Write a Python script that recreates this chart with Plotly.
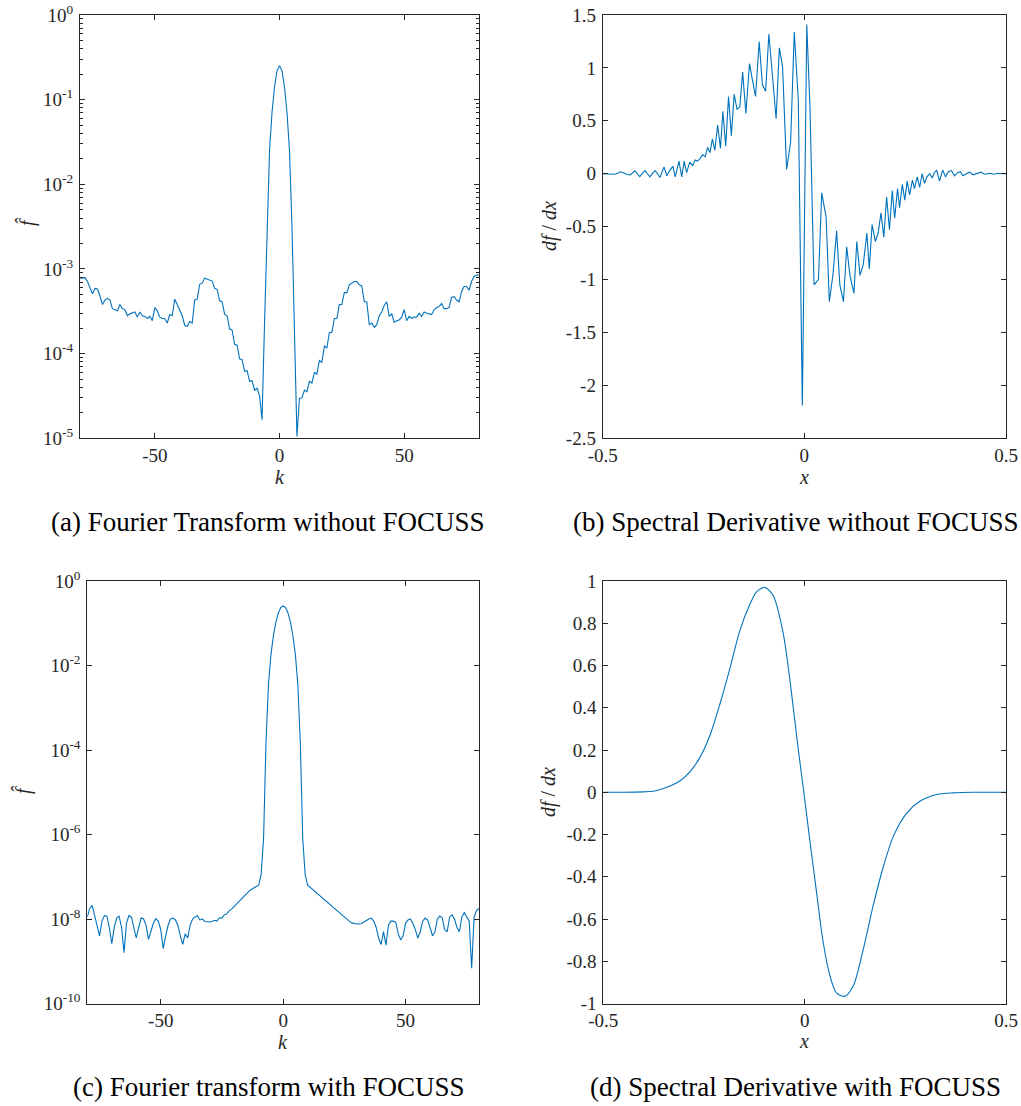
import plotly.graph_objects as go

# ---------------- data ----------------
# (a) Fourier transform without FOCUSS, k = -80..80
k_a = list(range(-80, 81))
fhat_a = [
    7.8e-4, 7.9e-4, 7.9e-4, 7.1e-4, 6.0e-4, 5.1e-4, 5.9e-4, 5.8e-4, 4.8e-4, 3.8e-4,
    4.3e-4, 4.5e-4, 4.3e-4, 3.4e-4, 3.3e-4, 3.2e-4, 3.8e-4, 3.4e-4, 3.3e-4, 2.8e-4,
    2.95e-4, 3.0e-4, 3.1e-4, 2.7e-4, 3.1e-4, 2.8e-4, 2.75e-4, 2.6e-4, 2.75e-4, 2.45e-4,
    3.5e-4, 3.2e-4, 2.7e-4, 2.6e-4, 2.6e-4, 2.3e-4, 2.9e-4, 2.8e-4, 4.4e-4, 3.8e-4,
    3.2e-4, 2.8e-4, 2.15e-4, 2.1e-4, 2.4e-4, 2.3e-4, 4.3e-4, 4.4e-4, 6.6e-4, 6.8e-4,
    7.8e-4, 7.6e-4, 7.4e-4, 7.2e-4, 5.9e-4, 5.75e-4, 4.2e-4, 4.1e-4, 2.9e-4, 2.8e-4,
    1.95e-4, 1.9e-4, 1.29e-4, 1.26e-4, 8.7e-5, 8.5e-5, 6.2e-5, 6.3e-5, 4.7e-5, 4.8e-5,
    3.7e-5, 3.9e-5, 3.2e-5, 1.66e-5, 2.3e-4, 3.2e-3, 2.5e-2, 7.1e-2, 0.141, 0.219,
    0.251,
    0.219, 0.141, 7.1e-2, 2.5e-2, 3.2e-3, 2.0e-4, 1.05e-5, 2.95e-5, 3.0e-5, 3.7e-5,
    3.55e-5, 4.7e-5, 4.5e-5, 6.0e-5, 5.75e-5, 8.3e-5, 7.9e-5, 1.23e-4, 1.17e-4, 1.78e-4,
    1.78e-4, 2.6e-4, 2.6e-4, 3.8e-4, 3.8e-4, 5.25e-4, 5.25e-4, 6.5e-4, 6.8e-4, 7.1e-4,
    7.1e-4, 6.5e-4, 6.3e-4, 4.1e-4, 4.1e-4, 2.2e-4, 2.3e-4, 2.05e-4, 2.2e-4, 2.8e-4,
    3.1e-4, 3.7e-4, 4.1e-4, 2.75e-4, 2.95e-4, 2.35e-4, 2.45e-4, 2.5e-4, 2.7e-4, 3.3e-4,
    2.45e-4, 2.75e-4, 2.6e-4, 2.7e-4, 2.7e-4, 3.0e-4, 2.75e-4, 3.1e-4, 3.0e-4, 2.95e-4,
    2.9e-4, 3.3e-4, 3.5e-4, 3.6e-4, 3.9e-4, 3.4e-4, 3.4e-4, 3.5e-4, 4.6e-4, 4.7e-4,
    4.3e-4, 4.1e-4, 5.4e-4, 6.2e-4, 6.2e-4, 5.6e-4, 7.1e-4, 8.1e-4, 8.5e-4, 8.5e-4,
]

# (b) Spectral derivative without FOCUSS
x_b = [
    -0.500, -0.490, -0.480, -0.470, -0.463, -0.456, -0.448, -0.440, -0.432, -0.426,
    -0.420, -0.414, -0.408, -0.401, -0.395, -0.389, -0.383, -0.376, -0.370, -0.364,
    -0.358, -0.348, -0.341, -0.334, -0.326, -0.320, -0.311, -0.304, -0.298, -0.292,
    -0.284, -0.277, -0.271, -0.265, -0.259, -0.252, -0.246, -0.240, -0.234, -0.228,
    -0.222, -0.215, -0.208, -0.202, -0.195, -0.188, -0.181, -0.174, -0.167, -0.160,
    -0.153, -0.145, -0.136, -0.128, -0.121, -0.112, -0.104, -0.096, -0.088, -0.070,
    -0.062, -0.054, -0.044, -0.034, -0.025, -0.015, -0.005, 0.006, 0.014, 0.024,
    0.035, 0.043, 0.054, 0.062, 0.071, 0.080, 0.088, 0.097, 0.105, 0.113,
    0.123, 0.130, 0.138, 0.146, 0.155, 0.161, 0.168, 0.176, 0.183, 0.190,
    0.197, 0.204, 0.211, 0.218, 0.224, 0.231, 0.236, 0.243, 0.249, 0.255,
    0.261, 0.268, 0.273, 0.280, 0.286, 0.292, 0.298, 0.304, 0.311, 0.317,
    0.322, 0.328, 0.335, 0.343, 0.350, 0.357, 0.365, 0.372, 0.380, 0.387,
    0.393, 0.402, 0.410, 0.418, 0.428, 0.438, 0.447, 0.460, 0.470, 0.480,
    0.490, 0.500,
]
dfdx_b = [
    0.000, 0.000, -0.003, -0.005, 0.005, 0.018, 0.008, -0.008, -0.012, 0.010,
    0.028, 0.000, -0.028, 0.005, 0.030, 0.000, -0.030, 0.005, 0.030, 0.000,
    -0.035, 0.065, -0.020, 0.030, 0.070, -0.030, 0.120, -0.030, 0.120, 0.010,
    0.110, 0.076, 0.130, 0.120, 0.140, 0.180, 0.160, 0.250, 0.200, 0.330,
    0.220, 0.460, 0.240, 0.590, 0.260, 0.730, 0.360, 0.750, 0.610, 0.630,
    0.960, 0.570, 1.040, 0.870, 0.730, 1.250, 0.840, 0.780, 1.320, 0.520,
    1.190, 1.010, 0.040, 0.300, 1.340, 0.700, -2.190, 1.410, 0.620, -1.050,
    -1.000, -0.180, -0.410, -1.210, -0.950, -0.540, -1.050, -1.210, -0.690, -0.960,
    -1.130, -0.640, -0.960, -0.860, -0.560, -0.900, -0.480, -0.640, -0.560, -0.370,
    -0.600, -0.220, -0.530, -0.160, -0.420, -0.140, -0.320, -0.100, -0.250, -0.070,
    -0.200, -0.060, -0.140, -0.030, -0.130, 0.000, -0.090, -0.030, 0.000, -0.040,
    0.010, 0.035, -0.070, 0.035, -0.030, 0.020, 0.030, -0.020, 0.010, 0.020,
    -0.020, 0.000, 0.015, -0.010, 0.000, 0.015, -0.005, 0.005, -0.005, 0.005,
    0.000, 0.000,
]

# (c) Fourier transform with FOCUSS, k = -80..80
k_c = list(range(-80, 81))
fhat_c = [
    1.12e-8, 1.78e-8, 2.1e-8, 1.26e-8, 7.1e-9, 4.0e-9, 8.9e-9, 1.2e-8, 1.17e-8, 6.3e-9,
    2.6e-9, 6.3e-9, 1.05e-8, 1.17e-8, 6.3e-9, 1.6e-9, 7.9e-9, 1.2e-8, 1.12e-8, 6.3e-9,
    3.55e-9, 6.3e-9, 1.07e-8, 1.0e-8, 7.1e-9, 3.3e-9, 5.0e-9, 7.9e-9, 1.02e-8, 8.9e-9,
    5.6e-9, 2.0e-9, 4.0e-9, 7.1e-9, 1.0e-8, 1.05e-8, 9.5e-9, 7.1e-9, 4.0e-9, 2.5e-9,
    4.5e-9, 3.55e-9, 7.1e-9, 1.0e-8, 1.12e-8, 1.2e-8, 9.5e-9, 1.0e-8, 8.7e-9, 8.5e-9,
    8.5e-9, 8.7e-9, 9.3e-9, 8.9e-9, 1.07e-8, 1.05e-8, 1.26e-8, 1.32e-8, 1.58e-8, 1.74e-8,
    2.0e-8, 2.3e-8, 2.6e-8, 3.0e-8, 3.5e-8, 4.0e-8, 4.5e-8, 5.0e-8, 5.5e-8, 5.9e-8,
    6.3e-8, 1.12e-7, 7.9e-7, 1.58e-4, 3.55e-3, 1.78e-2, 5.0e-2, 0.105, 0.174, 0.234,
    0.257,
    0.234, 0.174, 0.105, 5.0e-2, 1.78e-2, 3.55e-3, 1.58e-4, 7.9e-7, 1.12e-7, 6.3e-8,
    5.6e-8, 5.0e-8, 4.5e-8, 4.0e-8, 3.55e-8, 3.16e-8, 2.8e-8, 2.5e-8, 2.24e-8, 2.0e-8,
    1.78e-8, 1.58e-8, 1.41e-8, 1.26e-8, 1.12e-8, 1.0e-8, 8.9e-9, 8.1e-9, 7.8e-9, 7.6e-9,
    7.6e-9, 7.8e-9, 8.5e-9, 9.3e-9, 1.0e-8, 1.05e-8, 8.9e-9, 6.3e-9, 3.55e-9, 2.5e-9,
    5.0e-9, 2.4e-9, 7.1e-9, 8.9e-9, 8.9e-9, 8.3e-9, 4.5e-9, 3.2e-9, 4.0e-9, 7.9e-9,
    9.5e-9, 1.0e-8, 7.9e-9, 5.6e-9, 3.55e-9, 5.0e-9, 8.9e-9, 1.05e-8, 9.5e-9, 6.3e-9,
    4.0e-9, 5.0e-9, 1.0e-8, 1.17e-8, 1.05e-8, 5.6e-9, 5.0e-9, 1.12e-8, 1.26e-8, 1.0e-8,
    6.3e-9, 5.0e-9, 1.12e-8, 1.41e-8, 1.12e-8, 8.9e-9, 6.8e-10, 1.12e-8, 1.58e-8, 1.78e-8,
]

# (d) Spectral derivative with FOCUSS
x_d = [
    -0.500, -0.450, -0.400, -0.376, -0.334, -0.310, -0.285, -0.260, -0.235, -0.210,
    -0.185, -0.161, -0.136, -0.119, -0.099, -0.078, -0.053, -0.032, -0.016, -0.002,
    0.013, 0.030, 0.046, 0.063, 0.079, 0.100, 0.121, 0.146, 0.171, 0.195,
    0.220, 0.253, 0.286, 0.328, 0.369, 0.420, 0.460, 0.500,
]
dfdx_d = [
    0.000, 0.000, 0.002, 0.005, 0.030, 0.053, 0.096, 0.165, 0.270, 0.420,
    0.590, 0.765, 0.890, 0.950, 0.970, 0.930, 0.750, 0.460, 0.205, 0.000,
    -0.230, -0.480, -0.710, -0.870, -0.950, -0.966, -0.915, -0.740, -0.530, -0.355,
    -0.210, -0.100, -0.043, -0.011, -0.003, 0.000, 0.000, 0.000,
]

# tick definitions
kticks = [-50, 0, 50]
kticklabels = ["-50", "0", "50"]
xticks = [-0.5, 0, 0.5]
xticklabels = ["-0.5", "0", "0.5"]
yticks_a = [1, 1e-1, 1e-2, 1e-3, 1e-4, 1e-5]
yticklabels_a = ["10<sup>0</sup>", "10<sup>-1</sup>", "10<sup>-2</sup>",
                 "10<sup>-3</sup>", "10<sup>-4</sup>", "10<sup>-5</sup>"]
yticks_b = [-2.5, -2, -1.5, -1, -0.5, 0, 0.5, 1, 1.5]
yticklabels_b = ["-2.5", "-2", "-1.5", "-1", "-0.5", "0", "0.5", "1", "1.5"]
yticks_c = [1, 1e-2, 1e-4, 1e-6, 1e-8, 1e-10]
yticklabels_c = ["10<sup>0</sup>", "10<sup>-2</sup>", "10<sup>-4</sup>",
                 "10<sup>-6</sup>", "10<sup>-8</sup>", "10<sup>-10</sup>"]
yticks_d = [-1, -0.8, -0.6, -0.4, -0.2, 0, 0.2, 0.4, 0.6, 0.8, 1]
yticklabels_d = ["-1", "-0.8", "-0.6", "-0.4", "-0.2", "0", "0.2", "0.4", "0.6", "0.8", "1"]
minor_a = [m * 10.0 ** e for e in range(-5, 0) for m in range(2, 10)]

captions = ["(a) Fourier Transform without FOCUSS",
            "(b) Spectral Derivative without FOCUSS",
            "(c) Fourier transform with FOCUSS",
            "(d) Spectral Derivative with FOCUSS"]

# ---------------- figure ----------------
W, H = 1021, 1106
LINE = "#0072BD"
AX = "#262626"
FONT = "Liberation Serif"


def px_x(p):
    return p / W


def px_y(p):
    return 1 - p / H


fig = go.Figure()
fig.add_trace(go.Scatter(x=k_a, y=fhat_a, mode="lines", line=dict(color=LINE, width=1.1),
                         xaxis="x", yaxis="y", showlegend=False))
fig.add_trace(go.Scatter(x=x_b, y=dfdx_b, mode="lines", line=dict(color=LINE, width=1.1),
                         xaxis="x2", yaxis="y2", showlegend=False))
fig.add_trace(go.Scatter(x=k_c, y=fhat_c, mode="lines", line=dict(color=LINE, width=1.1),
                         xaxis="x3", yaxis="y3", showlegend=False))
fig.add_trace(go.Scatter(x=x_d, y=dfdx_d, mode="lines",
                         line=dict(color=LINE, width=1.1, shape="spline", smoothing=0.8),
                         xaxis="x4", yaxis="y4", showlegend=False))

common = dict(showline=True, linecolor=AX, linewidth=1, mirror="ticks", ticks="inside",
              ticklen=5, tickwidth=1, tickcolor=AX, showgrid=False, zeroline=False,
              automargin=False,
              tickfont=dict(family=FONT, size=19, color=AX), tickmode="array")

dom_a = ([px_x(80), px_x(479)], [px_y(438.3), px_y(15)])
dom_b = ([px_x(602.7), px_x(1006)], [px_y(438.3), px_y(15)])
dom_c = ([px_x(87.3), px_x(479)], [px_y(1003.5), px_y(581)])
dom_d = ([px_x(603.3), px_x(1006)], [px_y(1003.5), px_y(581)])

XS, YS = 0, 2
fig.update_layout(
    template="none",
    xaxis=dict(common, domain=dom_a[0], anchor="y", range=[-80, 80], tickvals=kticks, ticktext=kticklabels,
               ticklabelstandoff=XS),
    yaxis=dict(common, domain=dom_a[1], anchor="x", type="log", range=[-5, 0], tickvals=yticks_a,
               ticktext=yticklabels_a, ticklabelstandoff=YS,
               minor=dict(tickmode="array", tickvals=minor_a, ticks="inside", ticklen=3,
                          tickcolor=AX, tickwidth=1, showgrid=False)),
    xaxis2=dict(common, domain=dom_b[0], anchor="y2", range=[-0.5, 0.5], tickvals=xticks, ticktext=xticklabels,
                ticklabelstandoff=XS),
    yaxis2=dict(common, domain=dom_b[1], anchor="x2", range=[-2.5, 1.5], tickvals=yticks_b,
                ticktext=yticklabels_b, ticklabelstandoff=YS),
    xaxis3=dict(common, domain=dom_c[0], anchor="y3", range=[-80, 80], tickvals=kticks, ticktext=kticklabels,
                ticklabelstandoff=XS),
    yaxis3=dict(common, domain=dom_c[1], anchor="x3", type="log", range=[-10, 0], tickvals=yticks_c,
                ticktext=yticklabels_c, ticklabelstandoff=YS),
    xaxis4=dict(common, domain=dom_d[0], anchor="y4", range=[-0.5, 0.5], tickvals=xticks, ticktext=xticklabels,
                ticklabelstandoff=XS),
    yaxis4=dict(common, domain=dom_d[1], anchor="x4", range=[-1, 1], tickvals=yticks_d,
                ticktext=yticklabels_d, ticklabelstandoff=YS),
    width=W, height=H, autosize=False,
    margin=dict(l=0, r=0, t=0, b=0, pad=0),
    paper_bgcolor="white", plot_bgcolor="white",
    font=dict(family=FONT, color=AX),
    showlegend=False,
)

ann = []
# axis titles
ann.append(dict(text="<i>k</i>", x=px_x(279.5), y=px_y(477)))
ann.append(dict(text="<i>x</i>", x=px_x(804), y=px_y(477)))
ann.append(dict(text="<i>k</i>", x=px_x(283), y=px_y(1042)))
ann.append(dict(text="<i>x</i>", x=px_x(804), y=px_y(1041)))
ann.append(dict(text="<i>f\u0302</i>", x=px_x(27), y=px_y(222), textangle=-90))
ann.append(dict(text="<i>f\u0302</i>", x=px_x(23), y=px_y(790), textangle=-90))
ann.append(dict(text="<i>df</i> / <i>dx</i>", x=px_x(549), y=px_y(226), textangle=-90))
ann.append(dict(text="<i>df</i> / <i>dx</i>", x=px_x(549), y=px_y(792), textangle=-90))
for a in ann:
    a.update(xref="paper", yref="paper", showarrow=False, xanchor="center", yanchor="middle",
             font=dict(family=FONT, size=20, color=AX))

cap_pos = [(268, 522), (795, 522), (268, 1087), (795, 1087)]
for txt, (cx, cy) in zip(captions, cap_pos):
    ann.append(dict(text=txt, x=px_x(cx), y=px_y(cy), xref="paper", yref="paper", showarrow=False,
                    xanchor="center", yanchor="middle", font=dict(family=FONT, size=27, color="black")))

fig.update_layout(annotations=ann)
fig.write_html("out.html", config={"displayModeBar": False},
               post_script="document.body.style.margin='0';document.body.style.overflow='hidden';")
